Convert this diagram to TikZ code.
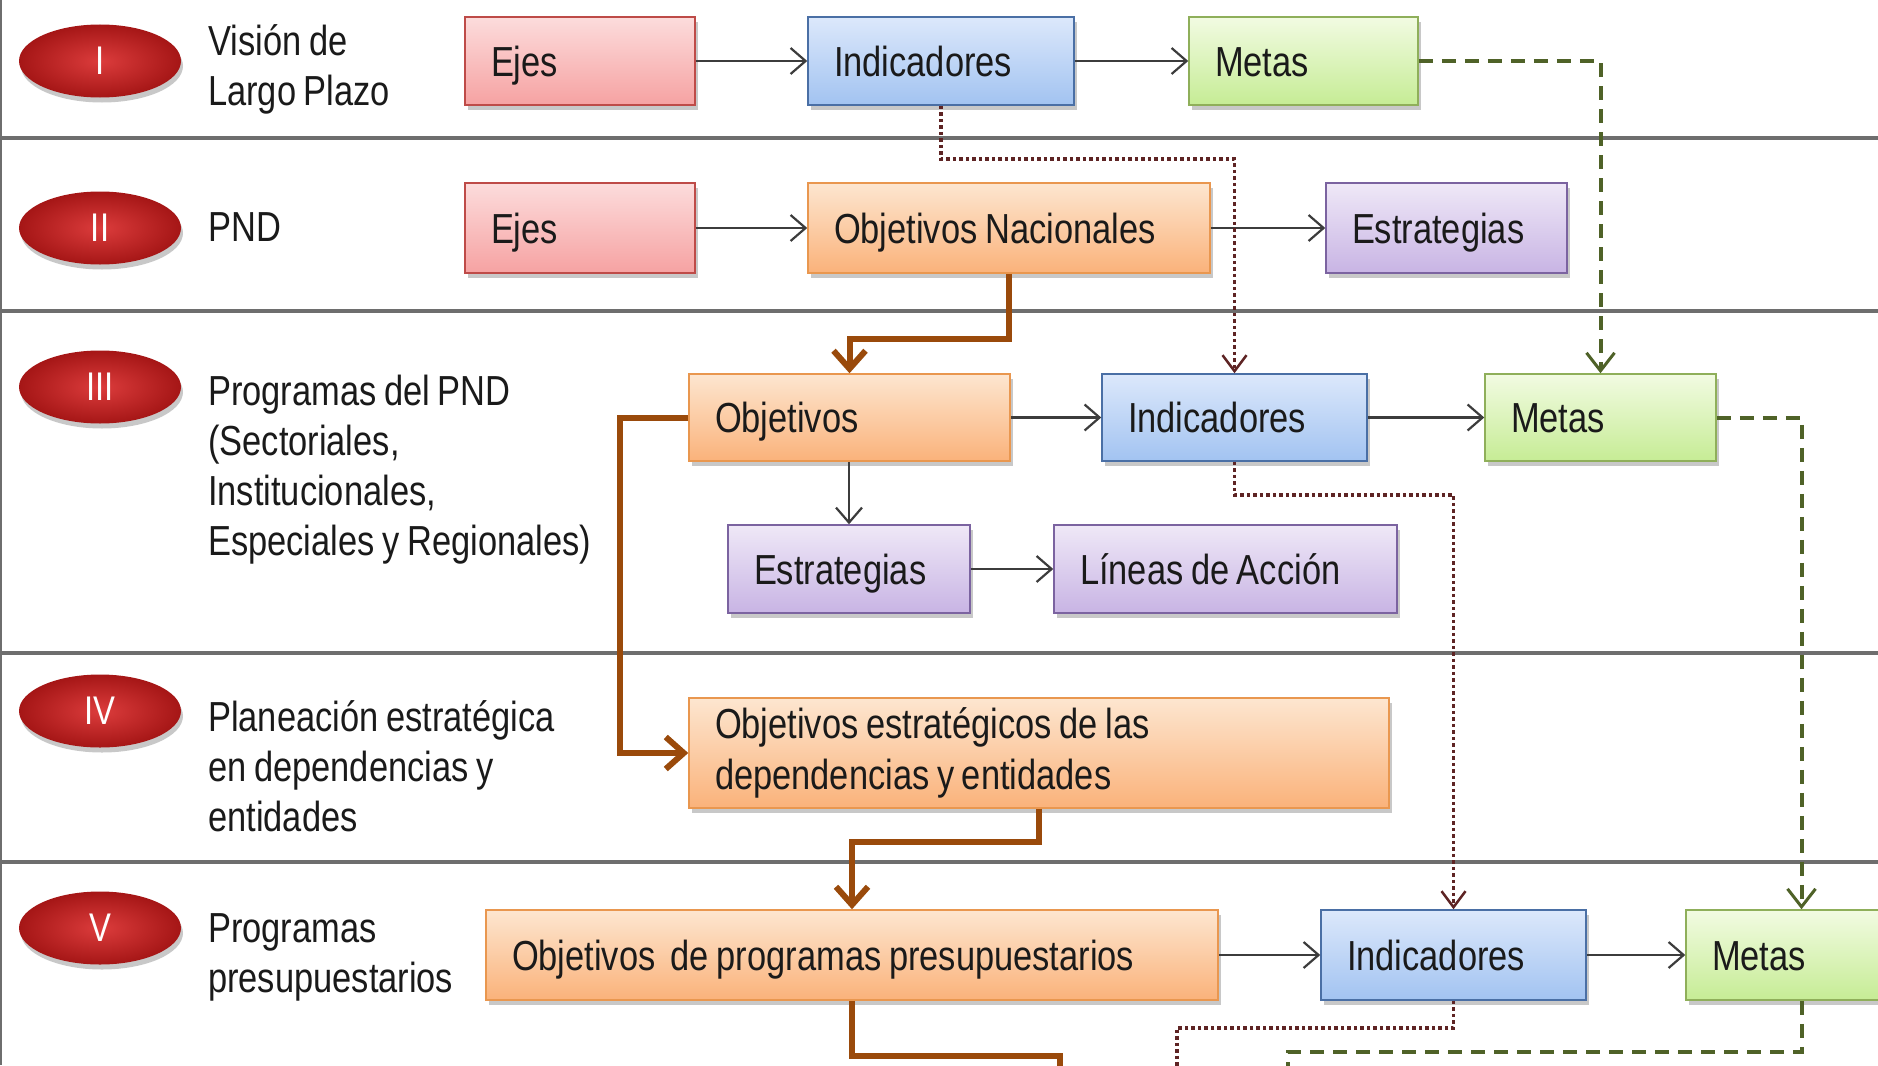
\documentclass[tikz,border=0pt]{standalone}
\usepackage{fontspec}
\setmainfont[FakeStretch=0.82, WordSpace=0.8]{Liberation Sans}
\usetikzlibrary{arrows.meta,shadows,shapes.geometric}
\definecolor{txt}{HTML}{1A1A1A}
\definecolor{sepc}{HTML}{6E6E6E}
\definecolor{arrc}{HTML}{3C3C3C}
\definecolor{brn}{HTML}{9A4A0B}
\definecolor{dotc}{HTML}{5E2424}
\definecolor{dshc}{HTML}{4F6228}
\definecolor{pinkT}{HTML}{FCDCDC}\definecolor{pinkB}{HTML}{F6A2A2}\definecolor{pinkD}{HTML}{BE4B48}
\definecolor{blueT}{HTML}{DCE8FB}\definecolor{blueB}{HTML}{A2C3F1}\definecolor{blueD}{HTML}{4A6FA5}
\definecolor{greenT}{HTML}{F2FBE2}\definecolor{greenB}{HTML}{C6EC95}\definecolor{greenD}{HTML}{8FAF5A}
\definecolor{orT}{HTML}{FDE6D0}\definecolor{orB}{HTML}{FAB27A}\definecolor{orD}{HTML}{E9974F}
\definecolor{puT}{HTML}{EFE8F7}\definecolor{puB}{HTML}{C8B4E4}\definecolor{puD}{HTML}{7B63A0}
\definecolor{redI}{HTML}{DC3C3C}\definecolor{redO}{HTML}{A51616}
\begin{document}
\begin{tikzpicture}[x=1pt,y=-1pt,
  box/.style={rectangle, line width=1.5pt, inner xsep=26pt, inner ysep=0pt, align=flush left,
    font=\fontsize{42}{51}\selectfont, text=txt,
    drop shadow={shadow xshift=3pt, shadow yshift=-5pt, opacity=0.3, fill=black!70}},
  one/.style={text height=34pt, text depth=4pt},
  pinkb/.style={draw=pinkD, top color=pinkT, bottom color=pinkB},
  blueb/.style={draw=blueD, top color=blueT, bottom color=blueB},
  greenb/.style={draw=greenD, top color=greenT, bottom color=greenB},
  orangeb/.style={draw=orD, top color=orT, bottom color=orB},
  purpleb/.style={draw=puD, top color=puT, bottom color=puB},
  roman/.style={ellipse, minimum width=162pt, minimum height=73pt, inner sep=0pt,
    inner color=redI, outer color=redO, text=white, font=\fontsize{40}{48}\selectfont,
    drop shadow={shadow xshift=2pt, shadow yshift=-5pt, opacity=0.3, fill=black!70}},
  lbl/.style={anchor=west, align=left, inner sep=0pt, text=txt, font=\fontsize{42}{50}\selectfont},
  sepline/.style={draw=sepc, line width=4pt},
  arr/.style={draw=arrc, line width=2.2pt, -{Straight Barb[length=15pt,width=26pt]}},
  brnarr/.style={draw=brn, line width=6pt, -{Straight Barb[length=18pt,width=32pt]}},
  dotarr/.style={draw=dotc, line width=3.5pt, dash pattern=on 3.5pt off 3pt,
    -{Straight Barb[length=16pt,width=24pt,line width=2.5pt]}},
  dsharr/.style={draw=dshc, line width=4pt, dash pattern=on 14pt off 9pt,
    -{Straight Barb[length=18pt,width=28pt,line width=3pt]}}
]
\useasboundingbox (0,0) rectangle (1878,1065);
\clip (0,0) rectangle (1878,1065);
\fill[white] (0,0) rectangle (1878,1065);

% separators and border
\draw[draw=sepc, line width=2pt] (1,0) -- (1,1065);
\draw[sepline] (0,138) -- (1878,138);
\draw[sepline] (0,311) -- (1878,311);
\draw[sepline] (0,653) -- (1878,653);
\draw[sepline] (0,862) -- (1878,862);

% roman numerals
\node[roman] (r1) at (100,61) {I};
\node[roman] (r2) at (100,228) {II};
\node[roman] (r3) at (100,387) {III};
\node[roman] (r4) at (100,711) {IV};
\node[roman] (r5) at (100,928) {V};

% row labels
\node[lbl] (l1) at (208,69) {Visión de\\Largo Plazo};
\node[lbl] (l2) at (208,227) {PND};
\node[lbl] (l3) at (208,470) {Programas del PND\\(Sectoriales,\\Institucionales,\\Especiales y Regionales)};
\node[lbl] (l4) at (208,766) {Planeación estratégica\\en dependencias y\\entidades};
\node[lbl] (l5) at (208,957) {Programas\\presupuestarios};

% boxes
\node[box,one,pinkb,minimum height=88pt,text width=178pt] (ejes1) at (580,61) {Ejes};
\node[box,one,blueb,minimum height=88pt,text width=214pt] (ind1) at (941,61) {Indicadores};
\node[box,one,greenb,minimum height=88pt,text width=177pt] (metas1) at (1303.5,61) {Metas};
\node[box,one,pinkb,minimum height=90pt,text width=178pt] (ejes2) at (580,228) {Ejes};
\node[box,one,orangeb,minimum height=90pt,text width=350pt] (objnac) at (1009,228) {Objetivos Nacionales};
\node[box,one,purpleb,minimum height=90pt,text width=189pt] (estr2) at (1446.5,228) {Estrategias};
\node[box,one,orangeb,minimum height=87pt,text width=269pt] (obj3) at (849.5,417.5) {Objetivos};
\node[box,one,blueb,minimum height=87pt,text width=213pt] (ind3) at (1234.5,417.5) {Indicadores};
\node[box,one,greenb,minimum height=87pt,text width=179pt] (metas3) at (1600.5,417.5) {Metas};
\node[box,one,purpleb,minimum height=88pt,text width=190pt] (estr3) at (849,569) {Estrategias};
\node[box,one,purpleb,minimum height=88pt,text width=291pt] (lineas) at (1225.5,569) {Líneas de Acción};
\node[box,orangeb,minimum height=110pt,text width=648pt] (objest) at (1039,753) {Objetivos estratégicos de las\\dependencias y entidades};
\node[box,one,orangeb,minimum height=90pt,text width=680pt] (objpre) at (852,955) {Objetivos\ \ de programas presupuestarios};
\node[box,one,blueb,minimum height=90pt,text width=213pt] (ind5) at (1453.5,955) {Indicadores};
\node[box,one,greenb,minimum height=90pt,text width=179pt] (metas5) at (1801.5,955) {Metas};

% corner coordinates
\coordinate (d1) at (1234.5,159);
\coordinate (b1) at (849.5,339);
\coordinate (b2) at (620,417.5);
\coordinate (d2) at (1453.5,495);
\coordinate (b3) at (852,842);
\coordinate (b4) at (1060,1056);
\coordinate (b4e) at (1060,1085);
\coordinate (d3) at (1177,1028);
\coordinate (d3e) at (1177,1085);
\coordinate (g3) at (1288,1052);
\coordinate (g3e) at (1288,1085);

% solid arrows
\draw[arr] (ejes1) -- (ind1);
\draw[arr] (ind1) -- (metas1);
\draw[arr] (ejes2) -- (objnac);
\draw[arr] (objnac) -- (estr2);
\draw[arr] (obj3) -- (ind3);
\draw[arr] (ind3) -- (metas3);
\draw[arr] (obj3.south -| estr3.north) -- (estr3.north);
\draw[arr] (estr3) -- (lineas);
\draw[arr] (objpre) -- (ind5);
\draw[arr] (ind5) -- (metas5);

% brown arrows
\draw[brnarr] (objnac.south) |- (b1) -- (obj3.north);
\draw[brnarr] (obj3.west) -- (b2) |- (objest.west);
\draw[brnarr] (objest.south) |- (b3) -- (objpre.north);
\draw[brnarr, arrows=-] (objpre.south) |- (b4) -- (b4e);

% dotted
\draw[dotarr] (ind1.south) |- (d1) -- (ind3.north);
\draw[dotarr] (ind3.south) |- (d2) -- (ind5.north);
\draw[dotarr, arrows=-] (ind5.south) |- (d3) -- (d3e);

% dashed
\draw[dsharr] (metas1.east) -| (metas3.north);
\draw[dsharr] (metas3.east) -| (metas5.north);
\draw[dsharr, arrows=-] (metas5.south) |- (g3) -- (g3e);
\end{tikzpicture}
\end{document}
